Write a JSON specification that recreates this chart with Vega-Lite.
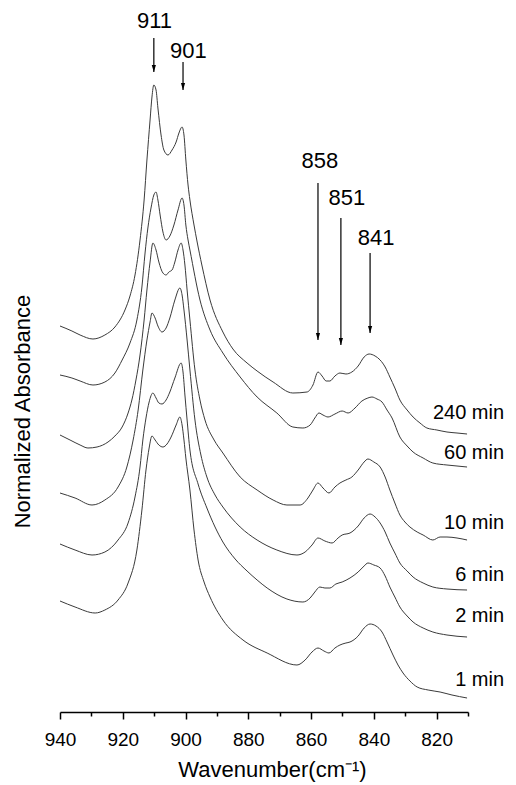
{
"$schema":"https://vega.github.io/schema/vega-lite/v6.json",
"width":408,"height":702,
"autosize":{"type":"none"},
"padding":{"left":60,"top":10,"right":48,"bottom":73},
"background":"white",
"config":{"view":{"stroke":null},"font":"Liberation Sans"},
"datasets":{
"spectra":[
{"s":"240","wn":940,"a":386},{"s":"240","wn":936.2,"a":381},{"s":"240","wn":933.6,"a":377},{"s":"240","wn":929.5,"a":373},{"s":"240","wn":925.7,"a":377},{"s":"240","wn":922.5,"a":385},{"s":"240","wn":919.3,"a":402},{"s":"240","wn":917.7,"a":416},{"s":"240","wn":916.1,"a":437},{"s":"240","wn":914.5,"a":472},{"s":"240","wn":913.2,"a":512},{"s":"240","wn":912.3,"a":552},{"s":"240","wn":911.3,"a":592},{"s":"240","wn":910.7,"a":615},{"s":"240","wn":910.1,"a":627},{"s":"240","wn":909.4,"a":622},{"s":"240","wn":908.8,"a":604},{"s":"240","wn":907.8,"a":577},{"s":"240","wn":906.9,"a":562},{"s":"240","wn":905.6,"a":557},{"s":"240","wn":904.3,"a":562},{"s":"240","wn":903.0,"a":570},{"s":"240","wn":902.1,"a":579},{"s":"240","wn":901.1,"a":585},{"s":"240","wn":900.5,"a":577},{"s":"240","wn":899.9,"a":552},{"s":"240","wn":899.2,"a":527},{"s":"240","wn":898.6,"a":512},{"s":"240","wn":897.3,"a":487},{"s":"240","wn":896.3,"a":470},{"s":"240","wn":894.8,"a":447},{"s":"240","wn":892.2,"a":412},{"s":"240","wn":888.1,"a":380},{"s":"240","wn":884.9,"a":363},{"s":"240","wn":880.4,"a":349},{"s":"240","wn":877.2,"a":341},{"s":"240","wn":872.1,"a":330},{"s":"240","wn":865.8,"a":319},{"s":"240","wn":861.3,"a":320},{"s":"240","wn":859.4,"a":327},{"s":"240","wn":857.8,"a":340},{"s":"240","wn":856.5,"a":336},{"s":"240","wn":855.2,"a":331},{"s":"240","wn":854.0,"a":331},{"s":"240","wn":852.4,"a":336},{"s":"240","wn":850.8,"a":339},{"s":"240","wn":848.9,"a":338},{"s":"240","wn":847.0,"a":340},{"s":"240","wn":845.0,"a":346},{"s":"240","wn":843.1,"a":355},{"s":"240","wn":841.5,"a":358},{"s":"240","wn":839.6,"a":356},{"s":"240","wn":838.0,"a":352},{"s":"240","wn":836.4,"a":345},{"s":"240","wn":834.9,"a":335},{"s":"240","wn":833.3,"a":324},{"s":"240","wn":831.7,"a":312},{"s":"240","wn":829.4,"a":302},{"s":"240","wn":827.5,"a":295},{"s":"240","wn":825.3,"a":289},{"s":"240","wn":823.1,"a":284},{"s":"240","wn":819.9,"a":282},{"s":"240","wn":816.7,"a":280},{"s":"240","wn":813.5,"a":279},{"s":"240","wn":810.3,"a":278},
{"s":"60","wn":940,"a":337},{"s":"60","wn":936.2,"a":334},{"s":"60","wn":933.6,"a":331},{"s":"60","wn":929.5,"a":327},{"s":"60","wn":925.7,"a":330},{"s":"60","wn":922.5,"a":339},{"s":"60","wn":920.2,"a":352},{"s":"60","wn":917.7,"a":369},{"s":"60","wn":915.5,"a":392},{"s":"60","wn":913.9,"a":425},{"s":"60","wn":912.9,"a":459},{"s":"60","wn":912.0,"a":484},{"s":"60","wn":911.0,"a":504},{"s":"60","wn":910.1,"a":517},{"s":"60","wn":909.4,"a":520},{"s":"60","wn":908.8,"a":512},{"s":"60","wn":908.1,"a":497},{"s":"60","wn":907.2,"a":480},{"s":"60","wn":906.2,"a":472},{"s":"60","wn":905.0,"a":476},{"s":"60","wn":903.7,"a":487},{"s":"60","wn":902.4,"a":502},{"s":"60","wn":901.1,"a":514},{"s":"60","wn":900.5,"a":507},{"s":"60","wn":899.9,"a":487},{"s":"60","wn":899.2,"a":472},{"s":"60","wn":898.6,"a":462},{"s":"60","wn":895.4,"a":412},{"s":"60","wn":892.2,"a":382},{"s":"60","wn":888.1,"a":359},{"s":"60","wn":882.6,"a":335},{"s":"60","wn":877.2,"a":315},{"s":"60","wn":870.9,"a":299},{"s":"60","wn":865.8,"a":285},{"s":"60","wn":862.6,"a":284},{"s":"60","wn":860.3,"a":287},{"s":"60","wn":858.8,"a":294},{"s":"60","wn":857.5,"a":299},{"s":"60","wn":856.2,"a":297},{"s":"60","wn":854.6,"a":295},{"s":"60","wn":852.4,"a":298},{"s":"60","wn":850.1,"a":301},{"s":"60","wn":848.2,"a":299},{"s":"60","wn":846.0,"a":304},{"s":"60","wn":843.8,"a":311},{"s":"60","wn":841.9,"a":314},{"s":"60","wn":840.6,"a":315},{"s":"60","wn":839.0,"a":313},{"s":"60","wn":837.4,"a":310},{"s":"60","wn":835.8,"a":302},{"s":"60","wn":834.2,"a":294},{"s":"60","wn":831.7,"a":275},{"s":"60","wn":829.4,"a":266},{"s":"60","wn":827.5,"a":260},{"s":"60","wn":824.3,"a":254},{"s":"60","wn":821.2,"a":249},{"s":"60","wn":816.7,"a":247},{"s":"60","wn":813.5,"a":246},{"s":"60","wn":810.3,"a":245},
{"s":"10","wn":940,"a":277},{"s":"10","wn":936.8,"a":272},{"s":"10","wn":933.6,"a":267},{"s":"10","wn":931.1,"a":264},{"s":"10","wn":928.2,"a":265},{"s":"10","wn":924.7,"a":270},{"s":"10","wn":922.5,"a":276},{"s":"10","wn":920.2,"a":285},{"s":"10","wn":918.3,"a":299},{"s":"10","wn":917.1,"a":312},{"s":"10","wn":915.8,"a":332},{"s":"10","wn":914.5,"a":357},{"s":"10","wn":913.2,"a":392},{"s":"10","wn":912.3,"a":422},{"s":"10","wn":911.3,"a":450},{"s":"10","wn":910.4,"a":469},{"s":"10","wn":909.4,"a":462},{"s":"10","wn":908.5,"a":450},{"s":"10","wn":907.2,"a":439},{"s":"10","wn":906.2,"a":437},{"s":"10","wn":905.3,"a":440},{"s":"10","wn":904.3,"a":442},{"s":"10","wn":903.4,"a":450},{"s":"10","wn":902.4,"a":462},{"s":"10","wn":901.4,"a":469},{"s":"10","wn":900.8,"a":462},{"s":"10","wn":900.2,"a":447},{"s":"10","wn":899.5,"a":422},{"s":"10","wn":898.6,"a":392},{"s":"10","wn":897.0,"a":342},{"s":"10","wn":895.4,"a":312},{"s":"10","wn":893.8,"a":292},{"s":"10","wn":890.9,"a":272},{"s":"10","wn":888.1,"a":259},{"s":"10","wn":882.6,"a":235},{"s":"10","wn":877.2,"a":222},{"s":"10","wn":872.1,"a":212},{"s":"10","wn":867.7,"a":207},{"s":"10","wn":863.5,"a":207},{"s":"10","wn":861.0,"a":214},{"s":"10","wn":859.4,"a":222},{"s":"10","wn":857.8,"a":229},{"s":"10","wn":856.2,"a":224},{"s":"10","wn":854.3,"a":219},{"s":"10","wn":852.4,"a":225},{"s":"10","wn":850.8,"a":229},{"s":"10","wn":848.9,"a":232},{"s":"10","wn":847.0,"a":235},{"s":"10","wn":845.0,"a":242},{"s":"10","wn":843.1,"a":250},{"s":"10","wn":841.9,"a":253},{"s":"10","wn":840.0,"a":250},{"s":"10","wn":838.0,"a":245},{"s":"10","wn":836.4,"a":235},{"s":"10","wn":834.9,"a":222},{"s":"10","wn":833.3,"a":209},{"s":"10","wn":831.7,"a":197},{"s":"10","wn":830.1,"a":190},{"s":"10","wn":828.5,"a":185},{"s":"10","wn":826.2,"a":180},{"s":"10","wn":824.3,"a":177},{"s":"10","wn":821.2,"a":172},{"s":"10","wn":818.9,"a":175},{"s":"10","wn":816.7,"a":175},{"s":"10","wn":813.5,"a":174},{"s":"10","wn":810.3,"a":172},
{"s":"6","wn":940,"a":219},{"s":"6","wn":935.2,"a":214},{"s":"6","wn":929.8,"a":207},{"s":"6","wn":925.7,"a":212},{"s":"6","wn":921.5,"a":225},{"s":"6","wn":918.7,"a":245},{"s":"6","wn":916.7,"a":272},{"s":"6","wn":915.1,"a":302},{"s":"6","wn":913.6,"a":342},{"s":"6","wn":912.3,"a":372},{"s":"6","wn":911.3,"a":390},{"s":"6","wn":910.7,"a":399},{"s":"6","wn":909.7,"a":394},{"s":"6","wn":908.8,"a":386},{"s":"6","wn":907.5,"a":380},{"s":"6","wn":906.2,"a":384},{"s":"6","wn":905.0,"a":394},{"s":"6","wn":903.4,"a":412},{"s":"6","wn":901.8,"a":424},{"s":"6","wn":901.1,"a":417},{"s":"6","wn":900.5,"a":402},{"s":"6","wn":899.5,"a":372},{"s":"6","wn":898.6,"a":342},{"s":"6","wn":897.0,"a":292},{"s":"6","wn":895.1,"a":257},{"s":"6","wn":893.2,"a":235},{"s":"6","wn":890.6,"a":217},{"s":"6","wn":888.1,"a":205},{"s":"6","wn":882.6,"a":185},{"s":"6","wn":877.2,"a":172},{"s":"6","wn":870.9,"a":162},{"s":"6","wn":864.5,"a":157},{"s":"6","wn":861.9,"a":160},{"s":"6","wn":859.7,"a":167},{"s":"6","wn":857.8,"a":174},{"s":"6","wn":855.6,"a":171},{"s":"6","wn":853.3,"a":169},{"s":"6","wn":851.4,"a":174},{"s":"6","wn":850.1,"a":177},{"s":"6","wn":847.6,"a":179},{"s":"6","wn":845.0,"a":186},{"s":"6","wn":843.1,"a":194},{"s":"6","wn":841.2,"a":198},{"s":"6","wn":839.6,"a":195},{"s":"6","wn":838.0,"a":189},{"s":"6","wn":836.4,"a":180},{"s":"6","wn":834.9,"a":169},{"s":"6","wn":833.3,"a":159},{"s":"6","wn":831.7,"a":149},{"s":"6","wn":829.4,"a":141},{"s":"6","wn":827.5,"a":135},{"s":"6","wn":824.3,"a":129},{"s":"6","wn":821.2,"a":125},{"s":"6","wn":816.7,"a":123},{"s":"6","wn":810.3,"a":122},
{"s":"2","wn":940,"a":168},{"s":"2","wn":935.2,"a":162},{"s":"2","wn":929.8,"a":157},{"s":"2","wn":925.7,"a":160},{"s":"2","wn":921.5,"a":172},{"s":"2","wn":918.3,"a":189},{"s":"2","wn":916.1,"a":215},{"s":"2","wn":914.5,"a":245},{"s":"2","wn":913.6,"a":272},{"s":"2","wn":912.6,"a":294},{"s":"2","wn":911.6,"a":310},{"s":"2","wn":910.4,"a":319},{"s":"2","wn":909.4,"a":314},{"s":"2","wn":908.5,"a":309},{"s":"2","wn":907.5,"a":308},{"s":"2","wn":906.2,"a":312},{"s":"2","wn":905.0,"a":320},{"s":"2","wn":903.4,"a":334},{"s":"2","wn":901.4,"a":349},{"s":"2","wn":900.8,"a":340},{"s":"2","wn":900.2,"a":317},{"s":"2","wn":899.5,"a":292},{"s":"2","wn":898.6,"a":262},{"s":"2","wn":896.0,"a":228},{"s":"2","wn":893.2,"a":204},{"s":"2","wn":890.6,"a":185},{"s":"2","wn":888.1,"a":170},{"s":"2","wn":884.2,"a":153},{"s":"2","wn":880.4,"a":141},{"s":"2","wn":877.2,"a":132},{"s":"2","wn":874.0,"a":124},{"s":"2","wn":867.7,"a":113},{"s":"2","wn":862.6,"a":110},{"s":"2","wn":860.3,"a":114},{"s":"2","wn":858.8,"a":120},{"s":"2","wn":857.2,"a":125},{"s":"2","wn":855.6,"a":124},{"s":"2","wn":854.0,"a":124},{"s":"2","wn":852.1,"a":128},{"s":"2","wn":850.1,"a":130},{"s":"2","wn":847.6,"a":134},{"s":"2","wn":845.0,"a":140},{"s":"2","wn":843.1,"a":146},{"s":"2","wn":841.9,"a":149},{"s":"2","wn":840.0,"a":147},{"s":"2","wn":838.0,"a":144},{"s":"2","wn":836.4,"a":136},{"s":"2","wn":834.9,"a":125},{"s":"2","wn":833.3,"a":115},{"s":"2","wn":831.7,"a":105},{"s":"2","wn":829.4,"a":96},{"s":"2","wn":827.5,"a":90},{"s":"2","wn":824.3,"a":84},{"s":"2","wn":821.2,"a":80},{"s":"2","wn":816.7,"a":77},{"s":"2","wn":810.3,"a":75},
{"s":"1","wn":940,"a":111},{"s":"1","wn":935.2,"a":105},{"s":"1","wn":928.8,"a":99},{"s":"1","wn":925.7,"a":102},{"s":"1","wn":921.5,"a":112},{"s":"1","wn":918.3,"a":129},{"s":"1","wn":915.5,"a":162},{"s":"1","wn":913.9,"a":202},{"s":"1","wn":912.6,"a":242},{"s":"1","wn":911.6,"a":264},{"s":"1","wn":910.7,"a":276},{"s":"1","wn":909.7,"a":272},{"s":"1","wn":908.5,"a":267},{"s":"1","wn":907.2,"a":265},{"s":"1","wn":905.9,"a":268},{"s":"1","wn":904.6,"a":275},{"s":"1","wn":903.0,"a":287},{"s":"1","wn":901.8,"a":295},{"s":"1","wn":901.1,"a":287},{"s":"1","wn":900.5,"a":272},{"s":"1","wn":899.9,"a":254},{"s":"1","wn":898.6,"a":222},{"s":"1","wn":897.3,"a":182},{"s":"1","wn":896.0,"a":152},{"s":"1","wn":894.1,"a":130},{"s":"1","wn":892.2,"a":115},{"s":"1","wn":888.1,"a":92},{"s":"1","wn":881.7,"a":72},{"s":"1","wn":874.0,"a":59},{"s":"1","wn":864.5,"a":47},{"s":"1","wn":861.9,"a":52},{"s":"1","wn":859.7,"a":60},{"s":"1","wn":857.8,"a":64},{"s":"1","wn":855.9,"a":61},{"s":"1","wn":854.3,"a":59},{"s":"1","wn":852.4,"a":64},{"s":"1","wn":850.8,"a":67},{"s":"1","wn":848.9,"a":69},{"s":"1","wn":847.6,"a":70},{"s":"1","wn":845.0,"a":76},{"s":"1","wn":843.1,"a":84},{"s":"1","wn":841.2,"a":88},{"s":"1","wn":839.3,"a":86},{"s":"1","wn":837.4,"a":80},{"s":"1","wn":835.8,"a":70},{"s":"1","wn":833.9,"a":57},{"s":"1","wn":832.3,"a":47},{"s":"1","wn":830.7,"a":39},{"s":"1","wn":828.5,"a":31},{"s":"1","wn":826.2,"a":25},{"s":"1","wn":822.7,"a":22},{"s":"1","wn":818.9,"a":20},{"s":"1","wn":815.1,"a":17},{"s":"1","wn":810.3,"a":14}
],
"arrows":[
{"wn":910.1,"top":674,"tip":640},
{"wn":900.8,"top":650,"tip":622},
{"wn":857.8,"top":529,"tip":372},
{"wn":850.5,"top":494,"tip":367},
{"wn":841.2,"top":459,"tip":379}
],
"peaks":[
{"label":"911","wn":909.9,"a":691},
{"label":"901","wn":899.1,"a":661.5},
{"label":"858","wn":857.2,"a":551},
{"label":"851","wn":848.6,"a":514.5},
{"label":"841","wn":839.3,"a":474}
],
"curveLabels":[
{"label":"240 min","wn":798.5,"a":299},
{"label":"60 min","wn":798.5,"a":259},
{"label":"10 min","wn":798.5,"a":189},
{"label":"6 min","wn":798.5,"a":137},
{"label":"2 min","wn":798.5,"a":96},
{"label":"1 min","wn":798.5,"a":32}
]
},
"encoding":{
"x":{"field":"wn","type":"quantitative","scale":{"domain":[810,940],"reverse":true,"nice":false,"zero":false},
 "axis":{"values":[940,930,920,910,900,890,880,870,860,850,840,830,820,810],"format":"d",
  "labelExpr":"datum.value % 20 == 0 ? datum.label : ''",
  "tickSize":{"condition":{"test":"datum.value % 20 == 0","value":7},"value":4},
  "title":"Wavenumber(cm⁻¹)","titleFontSize":22,"titleFontWeight":"normal","titleColor":"#000",
  "titleX":212,"titleY":57,"titleBaseline":"middle",
  "labelFontSize":19,"labelColor":"#000","labelPadding":11,"labelFlush":false,"labelOverlap":false,
  "domainColor":"#000","domainWidth":1.5,"tickColor":"#000","tickWidth":1.5,"grid":false}},
"y":{"field":"a","type":"quantitative","scale":{"domain":[0,702],"nice":false,"zero":false},
 "axis":{"title":"Normalized Absorbance","domain":false,"ticks":false,"labels":false,"grid":false,
  "titleFontSize":22,"titleFontWeight":"normal","titleColor":"#000","titleX":-38,"titleY":401,"titleBaseline":"middle"}}
},
"layer":[
{"data":{"name":"spectra"},"mark":{"type":"line","color":"#3a3a3a","strokeWidth":1,"interpolate":"monotone"},
 "encoding":{"detail":{"field":"s","type":"nominal"}}},
{"data":{"name":"arrows"},"mark":{"type":"rule","color":"#000","strokeWidth":1.2},
 "encoding":{"y":{"field":"top","type":"quantitative"},"y2":{"field":"tip"}}},
{"data":{"name":"arrows"},"mark":{"type":"point","shape":"M0,0L-0.3,-1L0.3,-1Z","size":196,"filled":true,"color":"#000","opacity":1,"strokeWidth":0},
 "encoding":{"y":{"field":"tip","type":"quantitative"}}},
{"data":{"name":"peaks"},"mark":{"type":"text","fontSize":22,"align":"center","baseline":"middle","color":"#000"},
 "encoding":{"text":{"field":"label"}}},
{"data":{"name":"curveLabels"},"mark":{"type":"text","fontSize":20,"align":"right","baseline":"middle","color":"#000"},
 "encoding":{"text":{"field":"label"}}}
]
}
